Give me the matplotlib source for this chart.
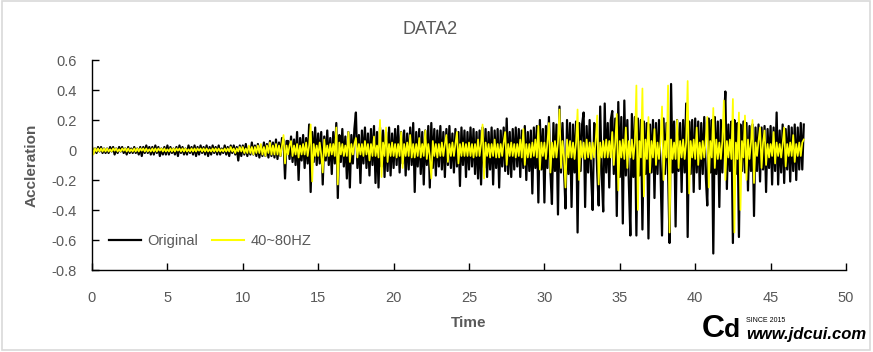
import numpy as np
import matplotlib
matplotlib.use("Agg")
import matplotlib.pyplot as plt
from matplotlib.patches import Rectangle

plt.rcParams['font.family'] = ['Liberation Sans', 'DejaVu Sans']

title = "DATA2"
x_label = "Time"
y_label = "Accleration"
series_names = ["Original", "40~80HZ"]
dt = 0.1
x_ticks = [0, 5, 10, 15, 20, 25, 30, 35, 40, 45, 50]
y_ticks = [-0.8, -0.6, -0.4, -0.2, 0, 0.2, 0.4, 0.6]
y_tick_labels = ["-0.8", "-0.6", "-0.4", "-0.2", "0", "0.2", "0.4", "0.6"]

original = [
    0.02,-0.02,0.01,-0.02,0.02,-0.01,0.02,-0.02,0.01,-0.02,
    0.01,-0.02,0.02,-0.01,0.02,-0.03,0.01,-0.02,0.02,-0.01,
    0.02,-0.02,0.01,-0.03,0.02,-0.02,0.01,-0.02,0.02,-0.02,
    0.01,-0.03,0.02,-0.04,0.02,-0.02,0.03,-0.02,0.02,-0.03,
    0.02,-0.03,0.03,-0.02,0.02,-0.04,0.01,-0.03,0.02,-0.03,
    0.03,-0.03,0.02,-0.02,0.01,-0.03,0.02,-0.04,0.03,-0.02,
    0.02,-0.03,0.01,-0.03,0.03,-0.02,0.02,-0.03,0.03,-0.04,
    0.02,-0.03,0.03,-0.02,0.02,-0.03,0.03,-0.04,0.02,-0.03,
    0.03,-0.02,0.02,-0.03,0.03,-0.03,0.01,-0.02,0.03,-0.03,
    0.02,-0.04,0.03,-0.02,0.03,-0.03,0.02,-0.07,0.03,-0.04,
    0.03,-0.03,0.04,-0.04,0.02,-0.03,0.05,-0.03,0.03,-0.04,
    0.04,-0.05,0.03,-0.04,0.05,-0.04,0.04,-0.05,0.06,-0.04,
    0.05,-0.05,0.07,-0.06,0.05,-0.04,0.08,0.07,-0.19,0.06,
    0.06,-0.06,0.09,-0.08,0.07,-0.10,0.12,-0.20,0.08,-0.07,
    0.10,-0.12,0.08,-0.09,0.17,-0.28,0.12,-0.08,0.15,-0.10,
    0.11,-0.09,0.12,-0.23,0.09,-0.07,0.13,-0.10,0.08,-0.16,
    0.12,-0.09,0.18,-0.32,0.10,-0.08,0.14,-0.11,0.09,-0.19,
    0.12,-0.25,0.10,-0.09,0.14,0.25,-0.12,0.10,-0.22,0.13,
    -0.09,0.15,-0.12,0.11,-0.17,0.14,-0.10,0.16,-0.22,0.12,
    -0.25,0.15,-0.11,0.13,-0.18,0.12,-0.14,0.15,-0.17,0.11,
    -0.12,0.14,-0.10,0.16,-0.15,0.12,-0.09,0.13,-0.17,0.11,
    -0.13,0.15,-0.10,0.18,-0.28,0.12,-0.11,0.14,-0.16,0.12,
    -0.23,0.13,-0.10,0.16,-0.25,0.18,-0.12,0.14,-0.17,0.13,
    -0.11,0.16,-0.13,0.12,-0.18,0.14,-0.10,0.16,-0.12,0.11,
    -0.15,0.14,-0.11,0.12,-0.24,0.15,-0.10,0.13,-0.18,0.12,
    -0.13,0.15,-0.11,0.14,-0.16,0.12,-0.19,0.13,-0.23,0.15,
    -0.12,0.14,-0.18,0.12,-0.13,0.15,-0.23,0.13,-0.12,0.14,
    -0.25,0.13,-0.11,0.15,-0.14,0.21,-0.16,0.12,-0.18,0.14,
    -0.13,0.15,-0.11,0.14,-0.18,0.13,-0.12,0.16,-0.20,0.12,
    -0.14,0.13,-0.29,0.15,-0.12,0.16,-0.35,0.20,-0.13,0.14,
    -0.35,0.16,-0.12,0.22,-0.15,-0.36,0.18,-0.14,0.17,-0.43,
    0.29,-0.15,0.18,-0.13,-0.39,0.20,-0.16,0.18,-0.38,0.17,
    -0.15,0.19,-0.55,0.18,-0.14,0.17,0.25,-0.38,0.16,-0.15,
    0.20,-0.17,-0.40,0.18,0.15,-0.14,-0.37,0.29,-0.16,-0.41,
    0.31,-0.15,0.18,-0.25,0.20,0.26,-0.16,0.21,-0.44,0.32,
    -0.18,0.22,-0.49,0.33,-0.17,0.20,-0.22,-0.57,0.24,-0.18,
    0.22,-0.57,0.21,-0.17,0.20,-0.53,0.19,-0.16,0.18,-0.59,
    0.17,-0.15,0.20,-0.32,0.18,-0.16,0.20,-0.14,-0.57,0.21,
    -0.16,0.18,-0.14,-0.62,0.44,-0.15,0.19,-0.51,0.20,-0.14,
    0.18,-0.28,0.20,-0.15,0.31,-0.58,0.19,-0.16,0.20,-0.28,
    0.21,-0.15,0.19,-0.26,0.18,-0.16,0.22,-0.17,-0.37,0.21,
    -0.15,0.20,-0.69,0.22,-0.16,0.19,-0.38,0.20,-0.15,0.18,
    0.39,-0.26,0.17,-0.14,0.19,-0.62,0.20,-0.16,0.18,-0.58,
    0.17,-0.14,0.19,-0.15,0.18,-0.27,0.16,-0.14,0.17,-0.44,
    0.15,-0.14,0.17,-0.21,0.15,-0.13,0.16,-0.28,0.14,-0.12,
    0.16,-0.23,0.15,-0.14,0.25,-0.23,0.13,-0.15,0.17,-0.22,
    0.14,-0.13,0.16,-0.21,0.15,-0.14,0.17,-0.20,0.15,-0.13,
    0.18,-0.13,0.17,
]

filtered = [
    0.03,-0.03,0.01,-0.01,0.01,-0.01,0.01,-0.01,0.01,-0.01,
    0.01,-0.01,0.005,-0.01,0.01,-0.005,0.01,-0.01,0.005,-0.01,
    0.01,-0.005,0.01,-0.01,0.01,-0.01,0.005,-0.01,0.01,-0.01,
    0.01,-0.01,0.01,-0.005,0.01,-0.01,0.01,-0.01,0.005,-0.01,
    0.01,-0.01,0.01,-0.01,0.01,-0.005,0.01,-0.01,0.01,-0.01,
    0.005,-0.01,0.01,-0.01,0.01,-0.01,0.01,-0.005,0.01,-0.01,
    0.01,-0.01,0.01,-0.01,0.005,-0.01,0.01,-0.01,0.01,-0.01,
    0.01,-0.005,0.01,-0.01,0.01,-0.01,0.01,-0.01,0.005,-0.01,
    0.01,-0.01,0.01,-0.01,0.01,-0.01,0.005,-0.01,0.01,-0.01,
    0.01,-0.01,0.02,-0.01,0.01,-0.02,0.01,-0.01,0.02,-0.01,
    0.02,-0.02,0.01,-0.02,0.03,-0.02,0.02,-0.03,0.02,-0.02,
    0.03,-0.02,0.04,-0.03,0.02,-0.04,0.03,-0.02,0.05,-0.03,
    0.03,-0.03,0.04,-0.03,0.03,-0.04,0.03,0.10,-0.09,0.03,
    -0.03,0.03,0.06,-0.04,0.03,-0.03,0.04,-0.05,0.03,-0.03,
    0.04,-0.03,0.05,-0.04,0.03,0.17,-0.21,0.04,-0.04,0.03,
    -0.04,0.05,-0.03,-0.15,0.07,-0.04,0.03,-0.04,0.04,-0.03,
    0.04,-0.04,0.15,-0.23,0.05,-0.03,0.04,-0.04,0.03,-0.04,
    0.12,-0.08,0.04,-0.03,0.04,0.08,-0.05,0.04,-0.03,0.04,
    -0.04,0.06,-0.03,0.04,-0.07,0.04,-0.04,0.09,-0.04,0.03,
    -0.05,0.20,-0.18,0.05,-0.04,0.15,-0.08,0.04,-0.04,0.05,
    -0.04,0.04,-0.05,0.04,-0.04,0.12,-0.12,0.04,-0.04,0.05,
    -0.04,0.10,-0.05,0.04,-0.05,0.04,-0.04,0.08,-0.05,0.04,
    -0.04,0.13,-0.06,0.04,-0.04,-0.19,0.06,-0.04,0.04,-0.05,
    0.04,-0.04,0.05,-0.04,0.04,0.10,-0.08,0.04,-0.04,0.05,
    -0.04,0.04,0.12,-0.09,0.04,-0.04,0.05,-0.04,0.04,-0.04,
    0.05,-0.04,0.04,-0.05,0.04,-0.04,0.07,-0.04,0.04,0.17,
    -0.19,0.05,-0.04,0.04,-0.05,0.04,-0.04,0.07,-0.05,0.04,
    -0.05,0.04,-0.04,0.05,0.12,-0.10,0.04,-0.04,0.05,-0.04,
    0.04,-0.05,0.04,-0.04,0.07,-0.05,0.14,-0.10,0.04,-0.05,
    0.04,-0.05,0.05,-0.04,0.07,-0.05,0.16,-0.13,0.05,-0.04,
    0.05,-0.06,0.05,0.18,-0.15,0.05,-0.05,0.06,-0.05,0.05,
    0.27,-0.12,0.06,-0.05,-0.25,0.07,-0.05,0.06,-0.05,0.05,
    -0.06,0.05,0.27,-0.20,0.06,-0.05,0.05,-0.06,0.07,-0.05,
    0.05,-0.06,0.05,-0.05,0.06,0.23,-0.23,0.05,-0.05,0.06,
    -0.05,0.07,-0.05,0.06,-0.05,0.12,-0.10,0.05,0.24,-0.27,
    0.06,-0.05,0.07,-0.06,0.15,-0.12,0.06,-0.05,0.07,-0.06,
    0.05,0.43,-0.40,0.06,-0.05,0.41,-0.31,0.07,-0.06,0.22,
    -0.15,0.06,-0.05,0.14,-0.10,0.05,-0.06,0.06,0.29,-0.20,
    0.06,-0.05,0.43,-0.55,0.07,-0.06,0.05,-0.06,0.20,-0.12,
    0.06,-0.05,0.07,-0.06,0.05,0.46,-0.29,0.06,-0.05,0.07,
    -0.06,0.15,-0.10,0.05,-0.06,0.06,-0.05,0.07,0.22,-0.25,
    0.06,-0.05,0.28,-0.12,0.07,-0.06,0.05,-0.06,0.06,0.33,
    -0.20,0.06,-0.05,0.07,-0.06,0.34,-0.55,0.05,-0.06,0.25,
    -0.40,0.06,-0.05,0.23,-0.20,0.07,-0.06,0.05,0.20,-0.22,
    0.05,-0.04,0.06,0.15,-0.12,0.05,0.13,-0.10,0.04,-0.05,
    0.04,-0.04,0.12,-0.09,0.05,-0.04,0.04,-0.05,0.04,0.15,
    -0.11,0.04,-0.04,0.05,-0.04,0.10,-0.08,0.04,-0.04,0.05,
    -0.04,0.05,0.07,
]

t_orig = np.arange(len(original)) * dt
t_filt = np.arange(len(filtered)) * dt

fig = plt.figure(figsize=(8.73, 3.52), dpi=100)
ax = fig.add_axes([92/873, 1-270/352, (846-92)/873, 210/352])

grey = '#595959'
ax.plot(t_orig, original, color='black', lw=1.6, label=series_names[0])
ax.plot(t_filt, filtered, color='#ffff00', lw=1.25, label=series_names[1])

ax.set_xlim(0, 50)
ax.set_ylim(-0.8, 0.6)
ax.set_xticks(x_ticks)
ax.set_yticks(y_ticks)
ax.set_yticklabels(y_tick_labels)
for s in ['top', 'right']:
    ax.spines[s].set_visible(False)
for s in ['left', 'bottom']:
    ax.spines[s].set_color('black')
    ax.spines[s].set_linewidth(1.0)
ax.tick_params(direction='in', length=5, width=1, colors='black', labelcolor=grey, labelsize=10.5)
ax.tick_params(axis='x', pad=15)
ax.tick_params(axis='y', pad=11)

ax.set_xlabel(x_label, fontsize=11, fontweight='bold', color=grey, labelpad=8)
ax.set_ylabel(y_label, fontsize=11, fontweight='bold', color=grey, labelpad=9)
fig.text(430/873, 1-30/352, title, ha='center', va='center', fontsize=13, color=grey)

leg = ax.legend(loc='lower left', bbox_to_anchor=(0.005, 0.04), ncol=2, frameon=False,
                fontsize=10.5, handlelength=2.2, handletextpad=0.4, columnspacing=1.0)
leg.get_lines()[1].set_linewidth(1.5)
for txt in leg.get_texts():
    txt.set_color(grey)

# chart border
fig.patches.append(Rectangle((0.002, 0.006), 0.994, 0.99, transform=fig.transFigure,
                             fill=False, edgecolor='#d9d9d9', lw=1.2))

# watermark
fig.text(702/873, 1-329/352, "C", fontsize=23, fontweight='bold', color='black', ha='left', va='center')
fig.text(724/873, 1-330/352, "d", fontsize=19, fontweight='bold', color='black', ha='left', va='center')
fig.text(746/873, 1-321/352, "SINCE 2015", fontsize=5, color='black', ha='left', va='center')
fig.text(746/873, 1-334/352, "www.jdcui.com", fontsize=12, fontweight='bold', style='italic',
         color='black', ha='left', va='center')

fig.savefig('out.png', dpi=100)
